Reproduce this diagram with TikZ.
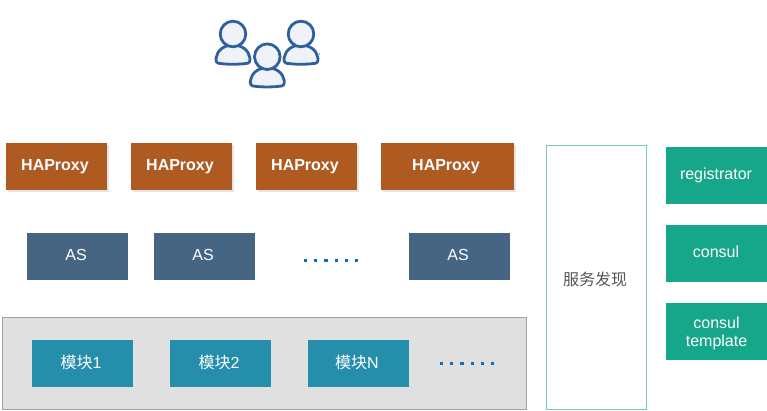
\documentclass[tikz,border=0pt]{standalone}
\usepackage{fontspec}
\setmainfont{Liberation Sans}
\newfontfamily\cjk{Noto Sans CJK SC}[Scale=1]
\usetikzlibrary{shadows}
\definecolor{hacol}{HTML}{AE5A21}
\definecolor{ascol}{HTML}{466582}
\definecolor{tool}{HTML}{16A689}
\definecolor{modcol}{HTML}{258EAB}
\definecolor{svcline}{HTML}{73CDB8}
\definecolor{panelfill}{HTML}{E0E0E0}
\definecolor{panelline}{HTML}{A0A0A0}
\definecolor{dotcol}{HTML}{0E6EB8}
\definecolor{personline}{HTML}{2F5F9E}
\definecolor{personfill}{HTML}{EFF3F9}
\definecolor{svctext}{HTML}{555555}
\newcommand{\shifted}[3][3pt]{\raisebox{#2}[0pt][0pt]{#3}\kern#1}
\tikzset{
  x=1pt,y=-1pt,
  basebox/.style={inner sep=0pt,minimum width=101pt,minimum height=47pt,text=white,font=\fontsize{16}{18}\selectfont,align=center},
  habox/.style={basebox,fill=hacol,font=\fontsize{16}{18}\selectfont\bfseries,
    general shadow={shadow xshift=2pt,shadow yshift=-2pt,fill=black!10}},
  asbox/.style={basebox,fill=ascol},
  toolbox/.style={basebox,fill=tool,minimum height=57pt},
  modbox/.style={basebox,fill=modcol},
  panel/.style={fill=panelfill,draw=panelline,line width=1pt,inner sep=0pt,minimum width=524pt,minimum height=92pt},
  svcbox/.style={draw=svcline,line width=1pt,inner sep=0pt,minimum width=100pt,minimum height=264pt,text=svctext,font=\fontsize{16}{18}\selectfont},
  dotrow/.style={draw=dotcol,line width=3.4pt,dash pattern=on 3.2pt off 7pt},
  personstroke/.style={draw=personline,fill=personfill,line width=2.8pt}
}
\newcommand{\person}[2]{%
  \begin{scope}[shift={(#1,#2)}]
    \draw[personstroke] (-13,29.5) .. controls (-16.5,29.5) and (-17.5,27) .. (-16.8,23.5) .. controls (-15.8,16.5) and (-9,11) .. (0,11) .. controls (9,11) and (15.8,16.5) .. (16.8,23.5) .. controls (17.5,27) and (16.5,29.5) .. (13,29.5) .. controls (5,30.5) and (-5,30.5) .. (-13,29.5) -- cycle;
    \draw[personstroke] (0,0) circle[radius=12.8];
  \end{scope}}
\begin{document}
\begin{tikzpicture}
\useasboundingbox (0,0) rectangle (767,411);
\person{233}{34}
\person{301}{34}
\person{267.3}{56.7}
\fill[black!70] (319.5,54) circle[radius=0.7];

\node[habox] (ha1) at (56.5,166.5) {\shifted{-4.5pt}{HAProxy}};
\node[habox] (ha2) at (181.5,166.5) {\shifted{-4.5pt}{HAProxy}};
\node[habox] (ha3) at (306.5,166.5) {\shifted{-4.5pt}{HAProxy}};
\node[habox,minimum width=133pt] (ha4) at (447.5,166.5) {\shifted{-4.5pt}{HAProxy}};

\node[asbox] (as1) at (77.5,256.5) {\shifted{-4.5pt}{AS}};
\node[asbox] (as2) at (204.5,256.5) {\shifted{-4.5pt}{AS}};
\node[asbox] (as3) at (459.5,256.5) {\shifted{-4.5pt}{AS}};
\coordinate (d1) at (304,260.4);
\coordinate (d2) at (358,260.4);
\draw[dotrow] (d1) -- (d2);

\node[panel] (panel) at (264.5,363.5) {};
\node[modbox] (m1) at (82.5,363.5) {\shifted{-4.8pt}{{\cjk 模块}1}};
\node[modbox] (m2) at (220.5,363.5) {\shifted{-4.8pt}{{\cjk 模块}2}};
\node[modbox] (m3) at (358.5,363.5) {\shifted{-4.8pt}{{\cjk 模块}N}};
\coordinate (d3) at (440,363.4);
\coordinate (d4) at (494,363.4);
\draw[dotrow] (d3) -- (d4);

\node[svcbox] (svc) at (596.5,277.5) {\shifted{-7.5pt}{\cjk 服务发现}};
\node[toolbox] (t1) at (716.5,175.5) {\shifted[1pt]{-4.5pt}{registrator}};
\node[toolbox] (t2) at (716.5,253.5) {\shifted[1pt]{-4.5pt}{consul}};
\node[toolbox] (t3) at (716.5,331.5) {\rule{0pt}{14.5pt}consul\\template};
\end{tikzpicture}
\end{document}
